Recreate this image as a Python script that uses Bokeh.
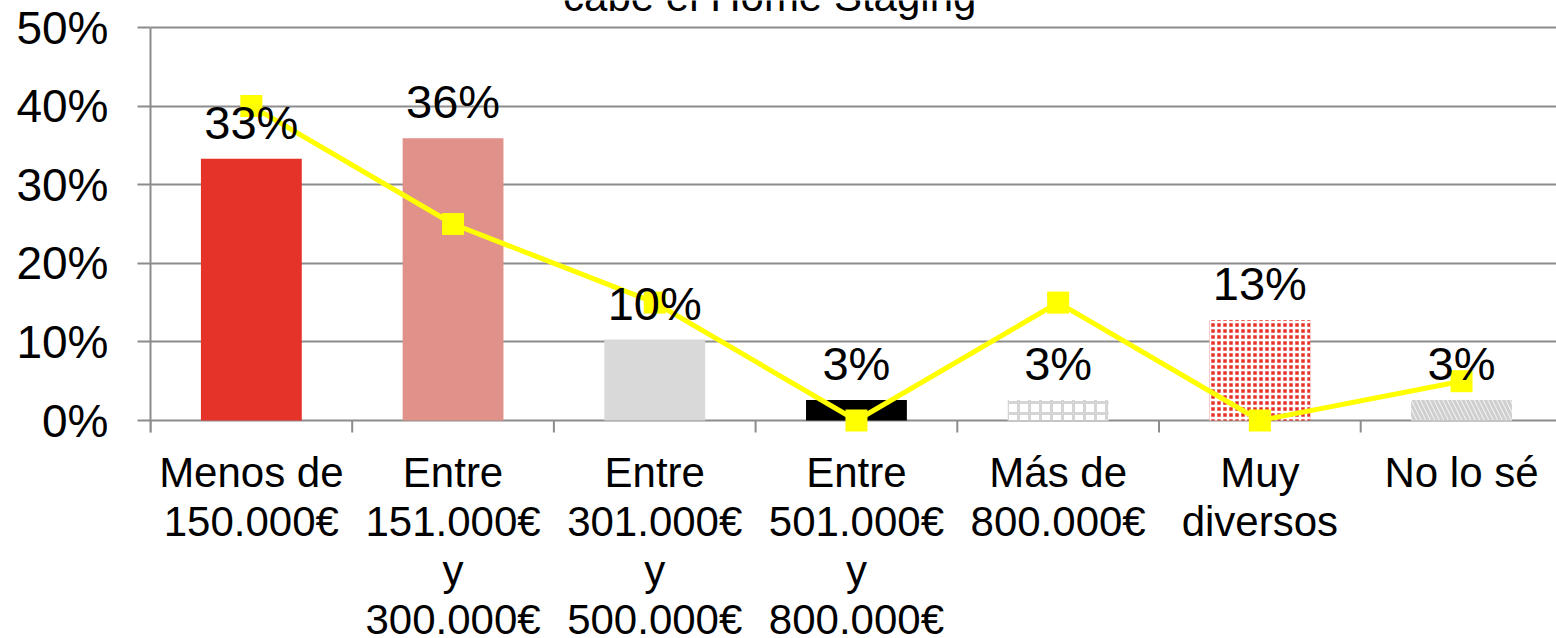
import numpy as np
from bokeh.plotting import figure
from bokeh.models import ColumnDataSource, FixedTicker, LabelSet, Label, NumeralTickFormatter, Range1d
from bokeh.core.properties import value
from bokeh.embed import file_html
from bokeh.resources import INLINE

categories = ["Menos de\n150.000€", "Entre\n151.000€\ny\n300.000€", "Entre\n301.000€\ny\n500.000€",
              "Entre\n501.000€\ny\n800.000€", "Más de\n800.000€", "Muy\ndiversos", "No lo sé"]
bar_values = [0.333, 0.359, 0.103, 0.026, 0.026, 0.128, 0.026]
bar_labels = ["33%", "36%", "10%", "3%", "3%", "13%", "3%"]
line_values = [0.40, 0.25, 0.15, 0.0, 0.15, 0.0, 0.05]
y_ticks = [0.0, 0.1, 0.2, 0.3, 0.4, 0.5]
title_text = "cabe el Home Staging"

bar_colors = ["#E6332A", "#E0918A", "#D9D9D9", "#000000", "#FFFFFF", "#E6332A", "#F2F2F2"]
bar_hatch = [" ", " ", " ", " ", "+", "+", "\\"]
hatch_colors = ["#FFFFFF", "#FFFFFF", "#FFFFFF", "#FFFFFF", "#D4D4D4", "#FFFFFF", "#CFCFCF"]
hatch_scales = [12, 12, 12, 12, 11, 6, 9]
hatch_weights = [1, 1, 1, 1, 3, 2.5, 3]

FONT = "Liberation Sans"
GRAY = "#8C8C8C"

W, H = 1556, 638
LEFT = 150          # px left of the frame (y axis area)
Y_TOP_PX = 27       # px from canvas top to the 50% line
Y_ZERO_PX = 420     # px from canvas top to the 0% line
CAT_PX = 201.7      # px per category
TITLE_BASE_PX = -4  # px from canvas top to the (cut-off) title baseline

n = len(categories)
centers = np.arange(n) + 0.5
boundaries = np.arange(n + 1)

ppu = (Y_ZERO_PX - Y_TOP_PX) / (y_ticks[-1] - y_ticks[0])   # px per y unit
y_lo = -(H - Y_ZERO_PX) / ppu
y_hi = y_ticks[-1] + Y_TOP_PX / ppu
x_hi = (W - LEFT) / CAT_PX

src = ColumnDataSource(dict(x=centers, top=bar_values, color=bar_colors, hatch=bar_hatch,
                            hcolor=hatch_colors, hscale=hatch_scales, hweight=hatch_weights,
                            lab=bar_labels, line=line_values))

p = figure(width=W, height=H, output_backend="svg", toolbar_location=None,
           x_range=Range1d(0, x_hi), y_range=Range1d(y_lo, y_hi), x_axis_location=None,
           min_border_left=LEFT, min_border_right=0, min_border_top=0, min_border_bottom=0)
p.outline_line_color = None
p.background_fill_color = "white"

p.ygrid.grid_line_color = GRAY
p.ygrid.grid_line_width = 2
p.xgrid.grid_line_color = None
p.ygrid.ticker = FixedTicker(ticks=y_ticks)

p.vbar(x="x", top="top", bottom=0, width=0.5, source=src, fill_color="color", line_color=None,
       hatch_pattern="hatch", hatch_color="hcolor", hatch_scale="hscale", hatch_weight="hweight")

# category boundary ticks below the 0% line
p.ray(x=boundaries, y=np.zeros(n + 1), length=12, length_units="screen", angle=-np.pi / 2,
      line_color=GRAY, line_width=2)

p.line(x="x", y="line", source=src, line_color="#FFFF00", line_width=5)
p.scatter(x="x", y="line", source=src, marker="square", size=22, fill_color="#FFFF00", line_color=None)

# y axis
ya = p.yaxis[0]
ya.bounds = (-12 / ppu, y_ticks[-1])
ya.ticker = FixedTicker(ticks=y_ticks)
ya.formatter = NumeralTickFormatter(format="0%")
ya.major_label_text_font = FONT
ya.major_label_text_font_size = "46px"
ya.major_label_text_color = "black"
ya.axis_line_color = GRAY
ya.axis_line_width = 2
ya.major_tick_line_color = GRAY
ya.major_tick_line_width = 2
ya.major_tick_out = 13
ya.major_tick_in = 0
ya.minor_tick_line_color = None
ya.major_label_standoff = 29

# data labels
p.add_layout(LabelSet(x="x", y="top", text="lab", source=src, text_align="center",
                      text_baseline="alphabetic", y_offset=20, text_font=value(FONT),
                      text_font_size="47px", text_color="black"))

# category labels, one LabelSet per text line
split = [c.split("\n") for c in categories]
for k in range(max(len(s) for s in split)):
    idx = [i for i, s in enumerate(split) if len(s) > k]
    lsrc = ColumnDataSource(dict(x=centers[idx], y=np.zeros(len(idx)), t=[split[i][k] for i in idx]))
    p.add_layout(LabelSet(x="x", y="y", text="t", source=lsrc, text_align="center",
                          text_baseline="alphabetic", y_offset=-(66 + 49 * k), text_font=value(FONT),
                          text_font_size="42px", text_color="black"))

# title, cut off by the top edge as in the reference
p.add_layout(Label(x=3.07, y=y_ticks[-1] + (Y_TOP_PX - TITLE_BASE_PX) / ppu, text=title_text,
                   text_align="center", text_baseline="alphabetic", text_font=FONT,
                   text_font_size="42px", text_color="black"))

open("out.html", "w").write(file_html(p, INLINE))
